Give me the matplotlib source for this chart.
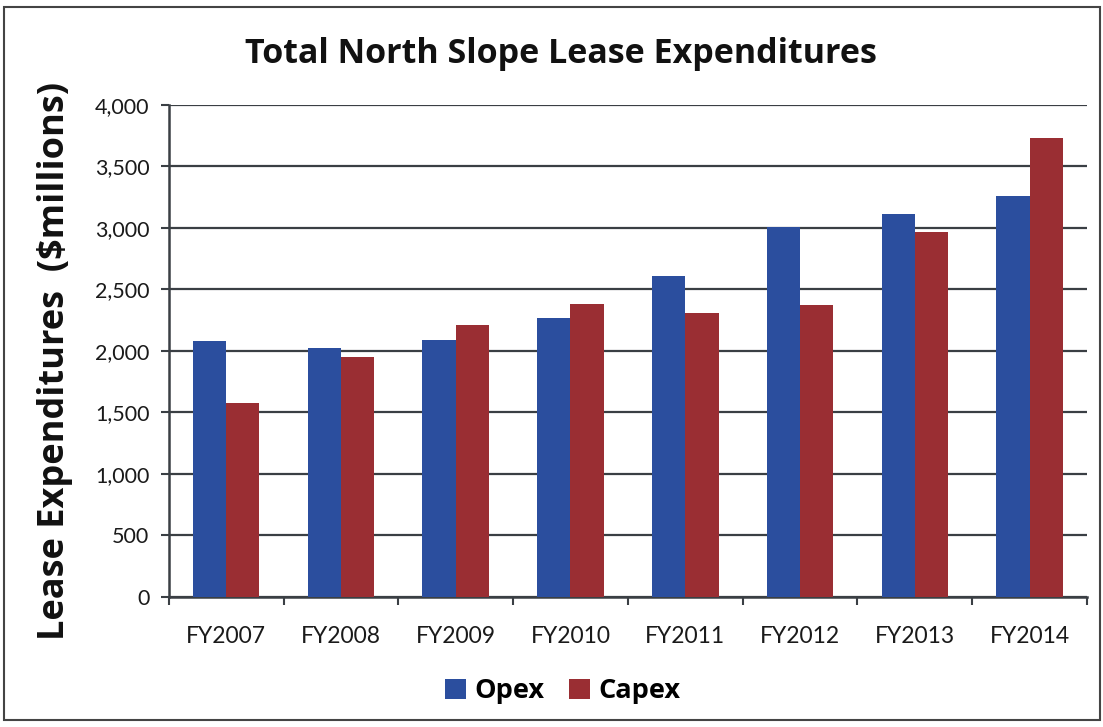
import numpy as np
import matplotlib
matplotlib.use("Agg")
import matplotlib.pyplot as plt
from matplotlib.patches import Rectangle
from matplotlib.ticker import FuncFormatter, FixedLocator

years = ["FY2007", "FY2008", "FY2009", "FY2010", "FY2011", "FY2012", "FY2013", "FY2014"]
opex = [2076, 2022, 2084, 2265, 2611, 3003, 3111, 3254]
capex = [1572, 1946, 2206, 2382, 2311, 2373, 2968, 3732]

plt.rcParams['font.family'] = ['Lato', 'DejaVu Sans']
bold_font = ['Open Sans', 'DejaVu Sans']
blue = '#2B4E9E'
red = '#9A2E33'
grid_c = '#3a3f44'

fig = plt.figure(figsize=(11.03, 7.27), dpi=100)
ax = fig.add_axes([0.153, 0.179, 0.8325, 0.677])

x = np.arange(len(years))
w = 0.29
ax.bar(x - w/2, opex, w, color=blue, label='Opex', zorder=3)
ax.bar(x + w/2, capex, w, color=red, label='Capex', zorder=3)

ax.set_xlim(-0.5, len(years) - 0.5)
ax.set_ylim(0, 4000)
ax.set_yticks(np.arange(0, 4001, 500))
ax.yaxis.set_major_formatter(FuncFormatter(lambda v, p: f"{int(v):,}"))
ax.grid(axis='y', color=grid_c, linewidth=1.6, zorder=0)

# ticks sit between the categories, labels in the middle
ax.xaxis.set_major_locator(FixedLocator(np.arange(-0.5, len(years), 1.0)))
ax.xaxis.set_major_formatter(FuncFormatter(lambda v, p: ""))
ax.xaxis.set_minor_locator(FixedLocator(x))
ax.set_xticklabels(years, minor=True)
ax.tick_params(axis='x', which='minor', length=0, pad=21, labelsize=16.5, colors='#1a1a1a')
ax.tick_params(axis='x', which='major', length=6, width=1.5, color=grid_c, direction='out')
ax.tick_params(axis='y', length=6, width=1.5, color=grid_c, labelsize=15.5, pad=8,
               labelcolor='#1a1a1a')

for s in ['top', 'right']:
    ax.spines[s].set_visible(False)
for s in ['left', 'bottom']:
    ax.spines[s].set_color(grid_c)
    ax.spines[s].set_linewidth(1.8)

fig.text(0.509, 0.926, 'Total North Slope Lease Expenditures', ha='center', va='center',
         fontsize=24.5, fontweight='bold', color='#111111', family=bold_font)
fig.text(0.05, 0.503, 'Lease Expenditures  ($millions)', ha='center', va='center',
         rotation=90, fontsize=26, fontweight='bold', color='#111111', family=bold_font)

fig.legend(loc='center', bbox_to_anchor=(0.51, 0.049), ncol=2, frameon=False,
           prop={'size': 19.5, 'weight': 'bold', 'family': bold_font},
           handlelength=0.8, handleheight=0.8, handletextpad=0.3, columnspacing=0.9)

fig.patches.append(Rectangle((0.004, 0.01), 0.993, 0.98, transform=fig.transFigure,
                             fill=False, edgecolor='#444444', linewidth=1.5))

fig.savefig('out.png', dpi=100)
